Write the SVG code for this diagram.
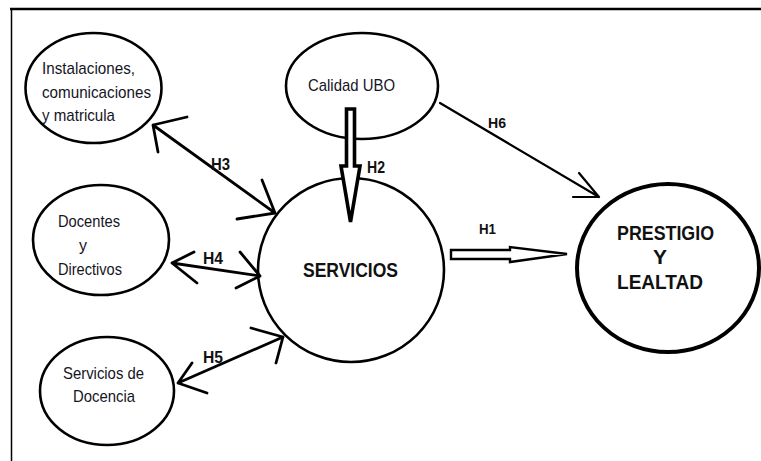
<svg xmlns="http://www.w3.org/2000/svg" width="761" height="461" viewBox="0 0 761 461">
<style>
.bg{fill:#fff}
.frame{stroke:#000;fill:none}
.node{fill:#fff;stroke:#000;stroke-width:2.6}
.big{stroke-width:4}
.t{font-family:"Liberation Sans",Arial,sans-serif;font-size:17px;fill:#15151f}
.b{font-family:"Liberation Sans",Arial,sans-serif;font-weight:bold;fill:#111}
.ln{fill:none;stroke:#000;stroke-width:2.8;stroke-linecap:round;stroke-linejoin:round}
.thin{stroke-width:2.2}
.hollow{fill:#fff;stroke:#000;stroke-linejoin:miter}
</style>
<rect class="bg" x="0" y="0" width="761" height="461"/>
<g id="frame">
<line class="frame" x1="10" y1="9" x2="761" y2="9" stroke-width="2.6"/>
<line class="frame" x1="11.5" y1="8" x2="11.5" y2="461" stroke-width="1.5"/>
</g>
<g id="instalaciones">
<ellipse class="node" cx="93.5" cy="88" rx="68" ry="55"/>
<text class="t" x="42" y="74" textLength="93" lengthAdjust="spacingAndGlyphs">Instalaciones,</text>
<text class="t" x="42" y="98" textLength="109" lengthAdjust="spacingAndGlyphs">comunicaciones</text>
<text class="t" x="42" y="121" textLength="73" lengthAdjust="spacingAndGlyphs">y matricula</text>
</g>
<g id="calidad">
<ellipse class="node" cx="362" cy="86" rx="76" ry="53"/>
<text class="t" x="308" y="91" textLength="87" lengthAdjust="spacingAndGlyphs">Calidad UBO</text>
</g>
<g id="docentes">
<ellipse class="node" cx="101" cy="240" rx="68" ry="55"/>
<text class="t" x="58" y="227" textLength="62" lengthAdjust="spacingAndGlyphs">Docentes</text>
<text class="t" x="79" y="251" textLength="8" lengthAdjust="spacingAndGlyphs">y</text>
<text class="t" x="58" y="275" textLength="64" lengthAdjust="spacingAndGlyphs">Directivos</text>
</g>
<g id="servicios-docencia">
<ellipse class="node" cx="107" cy="391" rx="67" ry="54"/>
<text class="t" x="63" y="379" textLength="81" lengthAdjust="spacingAndGlyphs">Servicios de</text>
<text class="t" x="73" y="402" textLength="62" lengthAdjust="spacingAndGlyphs">Docencia</text>
</g>
<g id="servicios">
<ellipse class="node" cx="351" cy="270" rx="93" ry="92"/>
<text class="b" x="303" y="277" font-size="20" textLength="95" lengthAdjust="spacingAndGlyphs">SERVICIOS</text>
</g>
<g id="prestigio">
<ellipse class="node big" cx="668" cy="268" rx="91" ry="84"/>
<text class="b" x="617" y="240" font-size="20" textLength="97" lengthAdjust="spacingAndGlyphs">PRESTIGIO</text>
<text class="b" x="653" y="264" font-size="20" textLength="14" lengthAdjust="spacingAndGlyphs">Y</text>
<text class="b" x="617" y="289" font-size="20" textLength="86" lengthAdjust="spacingAndGlyphs">LEALTAD</text>
</g>
<g id="connectors">
<!-- H3 -->
<path class="ln" d="M153 125 L275 213 M187 117 L153 125 L158 152 M262 180 L275 213 L237 219"/>
<!-- H4 -->
<path class="ln" d="M172 263 L260 276 M194 252 L172 263 L197 283 M240 252 L260 276 L236 288"/>
<!-- H5 -->
<path class="ln" d="M178 383 L283 337 M192 363 L178 383 L207 393 M251 328 L283 337 L276 363"/>
<!-- H6 -->
<path class="ln thin" d="M440 103 L599 197 M579 173 L599 197 L573 197"/>
<!-- H1 hollow arrow -->
<path class="hollow" stroke-width="2.4" d="M451 250 L510 250 L510 247 L567 254 L510 262 L510 259 L451 259 Z"/>
<!-- H2 hollow arrow -->
<path class="hollow" stroke-width="3.6" d="M346.5 109 L354.5 109 L354.5 166 L360 166 L350.5 222 L341 166 L346.5 166 Z"/>
<text class="b" x="479" y="234" font-size="15" textLength="17" lengthAdjust="spacingAndGlyphs">H1</text>
<text class="b" x="367" y="173" font-size="16" textLength="18" lengthAdjust="spacingAndGlyphs">H2</text>
<text class="b" x="211" y="170" font-size="16" textLength="19" lengthAdjust="spacingAndGlyphs">H3</text>
<text class="b" x="203" y="264" font-size="16" textLength="20" lengthAdjust="spacingAndGlyphs">H4</text>
<text class="b" x="203" y="363" font-size="16" textLength="20" lengthAdjust="spacingAndGlyphs">H5</text>
<text class="b" x="488" y="128" font-size="15" textLength="18" lengthAdjust="spacingAndGlyphs">H6</text>
</g>
</svg>
